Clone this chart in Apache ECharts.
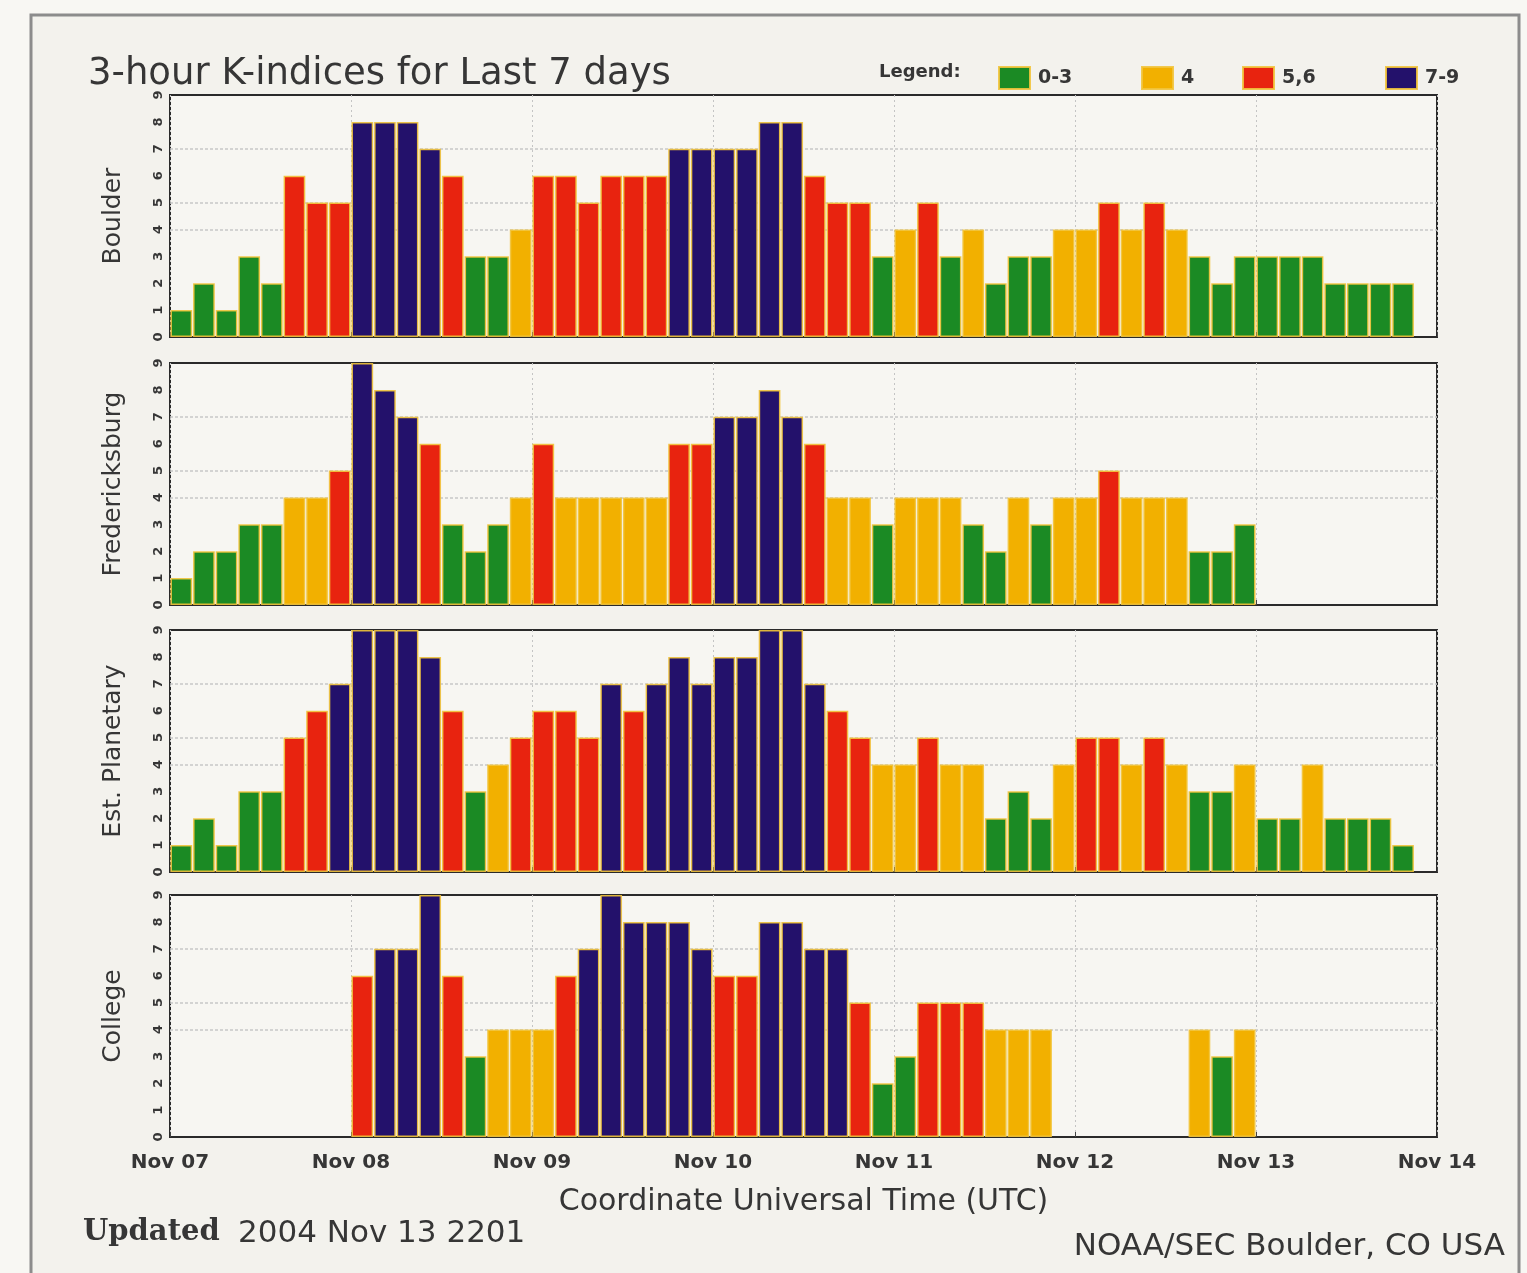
<!DOCTYPE html>
<html>
<head>
<meta charset="utf-8">
<script src="https://cdn.jsdelivr.net/npm/echarts@6/dist/echarts.min.js"></script>
<style>
  html, body { margin: 0; padding: 0; background: #f8f7f3; }
  #chart { width: 1527px; height: 1273px; }
</style>
</head>
<body>
<div id="chart"></div>
<script>
// Day boundaries along the time axis and the eight 3-hour slots of each day
const days = ['Nov 07', 'Nov 08', 'Nov 09', 'Nov 10', 'Nov 11', 'Nov 12', 'Nov 13', 'Nov 14'];
const hours = ['00', '03', '06', '09', '12', '15', '18', '21'];
const stations = ['Boulder', 'Fredericksburg', 'Est. Planetary', 'College'];

// 3-hour K-indices, Nov 07 00 UT .. Nov 13 21 UT (null = no data yet)
const boulder = [
  1, 2, 1, 3, 2, 6, 5, 5,
  8, 8, 8, 7, 6, 3, 3, 4,
  6, 6, 5, 6, 6, 6, 7, 7,
  7, 7, 8, 8, 6, 5, 5, 3,
  4, 5, 3, 4, 2, 3, 3, 4,
  4, 5, 4, 5, 4, 3, 2, 3,
  3, 3, 3, 2, 2, 2, 2, null
];
const fredericksburg = [
  1, 2, 2, 3, 3, 4, 4, 5,
  9, 8, 7, 6, 3, 2, 3, 4,
  6, 4, 4, 4, 4, 4, 6, 6,
  7, 7, 8, 7, 6, 4, 4, 3,
  4, 4, 4, 3, 2, 4, 3, 4,
  4, 5, 4, 4, 4, 2, 2, 3,
  null, null, null, null, null, null, null, null
];
const planetary = [
  1, 2, 1, 3, 3, 5, 6, 7,
  9, 9, 9, 8, 6, 3, 4, 5,
  6, 6, 5, 7, 6, 7, 8, 7,
  8, 8, 9, 9, 7, 6, 5, 4,
  4, 5, 4, 4, 2, 3, 2, 4,
  5, 5, 4, 5, 4, 3, 3, 4,
  2, 2, 4, 2, 2, 2, 1, null
];
const college = [
  null, null, null, null, null, null, null, null,
  6, 7, 7, 9, 6, 3, 4, 4,
  4, 6, 7, 9, 8, 8, 8, 7,
  6, 6, 8, 8, 7, 7, 5, 2,
  3, 5, 5, 5, 4, 4, 4, null,
  null, null, null, null, null, 4, 3, 4,
  null, null, null, null, null, null, null, null
];

// Activity classes shown in the legend
const classNames = ['0-3', '4', '5,6', '7-9'];
const classColors = ['#1b8a24', '#f2b000', '#e8230f', '#23116b'];
const thresholds = [4, 5, 7];

const stationData = [boulder, fredericksburg, planetary, college];
const slots = days.slice(0, 7).flatMap(d => hours.map(h => d + ' ' + h));

function kClass(k) {
  if (k <= 3) return 0;
  if (k === 4) return 1;
  if (k <= 6) return 2;
  return 3;
}

const FONT = 'DejaVu Sans';
const TEXT = '#363636';
const gridTops = [95, 363, 630, 895];
const gridH = 242;

const grid = [], xAxis = [], yAxis = [], series = [];

stationData.forEach((vals, i) => {
  const last = i === stationData.length - 1;
  grid.push({
    left: 170, right: 90, top: gridTops[i], height: gridH,
    show: true, backgroundColor: '#f7f6f2',
    borderColor: '#2a2a2a', borderWidth: 2
  });
  // slot axis carrying the bars
  xAxis.push({
    type: 'category', gridIndex: i, data: slots, show: false, boundaryGap: true
  });
  // day axis: labels and dotted day separators
  xAxis.push({
    type: 'value', gridIndex: i, min: 0, max: 7, interval: 1,
    position: 'bottom',
    axisLine: { show: false },
    axisTick: { show: true, inside: true, length: 5, lineStyle: { color: '#444' } },
    splitLine: { show: true, lineStyle: { color: '#c4c4c4', type: [2, 3], width: 1 } },
    axisLabel: {
      show: last, formatter: v => days[v], fontFamily: FONT, fontWeight: 'bold',
      fontSize: 20, color: TEXT, margin: 16
    },
    name: last ? 'Coordinate Universal Time (UTC)' : '',
    nameLocation: 'middle', nameGap: 50,
    nameTextStyle: { fontFamily: FONT, fontSize: 30, color: TEXT }
  });
  yAxis.push({
    type: 'value', gridIndex: i, min: 0, max: 9, interval: 1,
    axisLine: { show: false },
    axisTick: { show: false },
    splitLine: { show: false },
    axisLabel: { rotate: 90, fontFamily: FONT, fontWeight: 'bold', fontSize: 13, color: TEXT, margin: 5 },
    name: stations[i], nameLocation: 'middle', nameGap: 44,
    nameTextStyle: { fontFamily: FONT, fontSize: 25, color: TEXT }
  });

  // threshold reference lines at K = 4, 5, 7, kept under the bars
  series.push({
    type: 'line', xAxisIndex: 2 * i, yAxisIndex: i, data: [], z: 0, silent: true,
    markLine: {
      z: 0, silent: true, symbol: 'none', label: { show: false },
      lineStyle: { color: '#c8c8c8', type: [3, 2], width: 1.5 },
      data: thresholds.map(t => ({ yAxis: t }))
    }
  });

  classNames.forEach((name, c) => {
    series.push({
      type: 'bar', name: name, xAxisIndex: 2 * i, yAxisIndex: i,
      stack: 'st' + i, barCategoryGap: '4%', z: 3,
      data: vals.map(v => (v !== null && kClass(v) === c) ? v : null),
      itemStyle: { color: classColors[c], borderColor: 'rgba(242,196,60,0.9)', borderWidth: 1.5 },
      emphasis: { disabled: true }
    });
  });
});

// one legend block per class so each sits at its own spot
const legendLeft = [993, 1136, 1237, 1380];
const legend = classNames.map((name, c) => ({
  data: [name], left: legendLeft[c], top: 61,
  icon: 'rect', itemWidth: 31, itemHeight: 22, itemGap: 0,
  textStyle: { fontFamily: FONT, fontSize: 19, fontWeight: 'bold', color: TEXT, padding: [0, 0, 0, 3] }
}));

const option = {
  backgroundColor: '#f8f7f3',
  animation: false,
  title: {
    text: '3-hour K-indices for Last 7 days', left: 83, top: 51,
    textStyle: { fontFamily: FONT, fontSize: 37, fontWeight: 'normal', color: TEXT }
  },
  legend: legend,
  grid: grid, xAxis: xAxis, yAxis: yAxis, series: series,
  graphic: [
    {
      type: 'rect', z: -10, silent: true,
      shape: { x: 31, y: 15, width: 1488, height: 1275 },
      style: { fill: '#f3f2ed', stroke: '#8c8c8c', lineWidth: 3 }
    },
    {
      type: 'text', left: 879, top: 63,
      style: { text: 'Legend:', font: 'bold 18px "DejaVu Sans"', fill: TEXT }
    },
    {
      type: 'text', left: 83, top: 1218,
      style: { text: 'Updated', font: 'bold 29px "DejaVu Serif"', fill: TEXT }
    },
    {
      type: 'text', left: 238, top: 1218,
      style: { text: '2004 Nov 13 2201', font: '31px "DejaVu Sans"', fill: TEXT }
    },
    {
      type: 'text', right: 22, top: 1231,
      style: { text: 'NOAA/SEC Boulder, CO USA', font: '31px "DejaVu Sans"', fill: TEXT }
    }
  ]
};

const chart = echarts.init(document.getElementById('chart'), null, { renderer: 'canvas' });
chart.setOption(option);
</script>
</body>
</html>
